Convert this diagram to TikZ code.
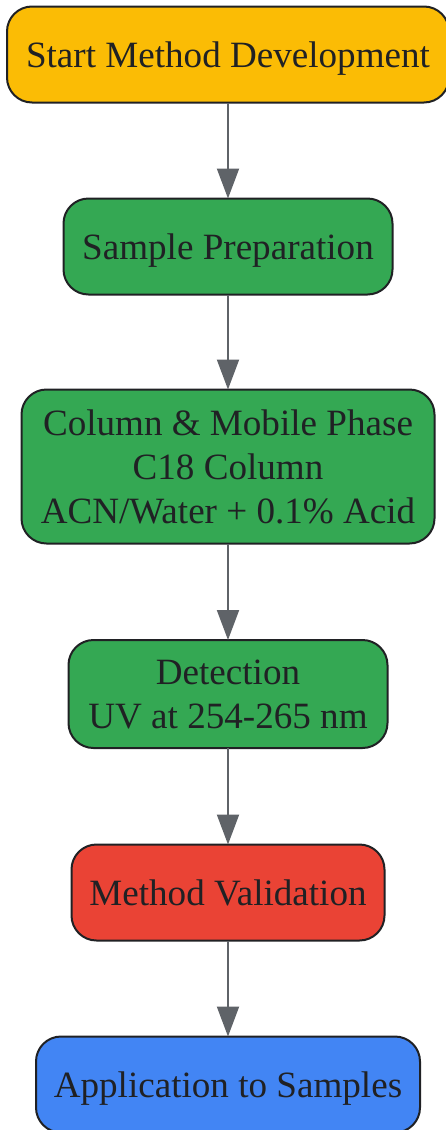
\documentclass[tikz,border=0pt]{standalone}
\usepackage{fontspec}
\setmainfont{Liberation Serif}
\usetikzlibrary{arrows.meta}
\definecolor{startyellow}{HTML}{FBBC05}
\definecolor{stepgreen}{HTML}{34A853}
\definecolor{checkred}{HTML}{EA4335}
\definecolor{endblue}{HTML}{4285F4}
\definecolor{edgegray}{HTML}{5F6368}
\definecolor{inkdark}{HTML}{202124}
\begin{document}
\begin{tikzpicture}[x=1pt,y=1pt,inner sep=0pt,outer sep=0pt,
flowbox/.style={draw=inkdark,line width=2pt,rounded corners=25pt,align=center,text=inkdark,
  font=\fontsize{37.1}{44}\selectfont,minimum height=96pt},
oneline/.style={execute at begin node={\rule[-9pt]{0pt}{44pt}}},
twoline/.style={execute at begin node={\rule{0pt}{33pt}}},
flowarrow/.style={edgegray,line width=2pt,-{Triangle[length=30pt,width=22pt]}}]
\useasboundingbox (0,0) rectangle (445,-1130);
\draw (228,-54.5) node[flowbox,oneline,fill=startyellow,minimum width=442pt] (start) {Start Method Development};
\draw (228,-246.5) node[flowbox,oneline,fill=stepgreen,minimum width=329pt] (prep) {Sample Preparation};
\draw (228,-466.5) node[flowbox,twoline,fill=stepgreen,minimum width=413pt,minimum height=154pt] (column) {Column \& Mobile Phase\\C18 Column\\ACN/Water + 0.1\% Acid};
\draw (228,-694) node[flowbox,twoline,fill=stepgreen,minimum width=319pt,minimum height=108pt] (detect) {Detection\\UV at 254-265 nm};
\draw (228,-892.5) node[flowbox,oneline,fill=checkred,minimum width=313pt] (valid) {Method Validation};
\draw (228,-1084.5) node[flowbox,oneline,fill=endblue,minimum width=384pt] (apply) {Application to Samples};
\draw[flowarrow] (start.south) -- (prep.north);
\draw[flowarrow] (prep.south) -- (column.north);
\draw[flowarrow] (column.south) -- (detect.north);
\draw[flowarrow] (detect.south) -- (valid.north);
\draw[flowarrow] (valid.south) -- (apply.north);
\end{tikzpicture}
\end{document}
